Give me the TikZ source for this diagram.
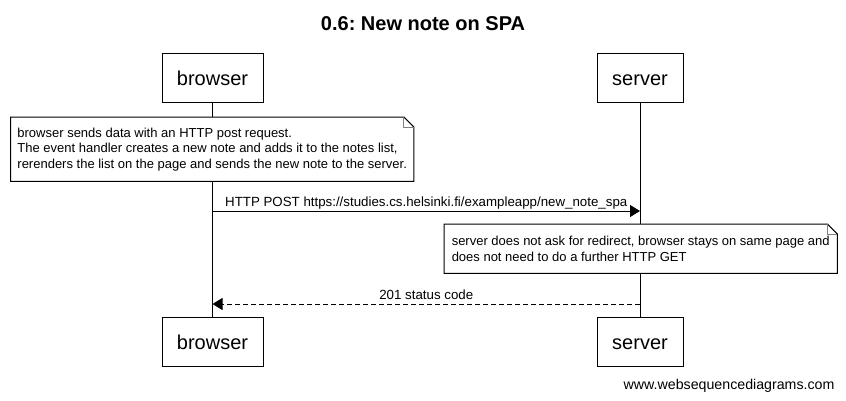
\documentclass[tikz,border=0pt]{standalone}
\usepackage{fontspec}
\setmainfont{Liberation Sans}
\usetikzlibrary{arrows.meta}
\frenchspacing

\tikzset{
  actor/.style={draw, line width=1pt, fill=white, minimum height=49pt, inner sep=0pt,
    text height=16pt, text depth=0pt, font=\fontsize{20}{24}\selectfont},
  notebox/.style={fill=white, align=left, anchor=north west, inner sep=0pt,
    font=\fontsize{13}{15.5}\selectfont},
  msg/.style={line width=1pt, -{Triangle[length=10pt,width=12pt]}},
  msglabel/.style={font=\fontsize{13.3}{15.5}\selectfont, anchor=base},
  fold/.style={line width=1pt}
}

\begin{document}
\begin{tikzpicture}[x=1pt,y=-1pt]
  \useasboundingbox (0,0) rectangle (846,400);
  \node[font=\bfseries\fontsize{20}{24}\selectfont, anchor=base] (title) at (423,30) {0.6: New note on SPA};

  % participants
  \node[actor, minimum width=101pt] (browsertop) at (212.5,77.5) {browser};
  \node[actor, minimum width=86pt] (servertop) at (640,77.5) {server};
  \node[actor, minimum width=101pt] (browserbot) at (212.5,341.5) {browser};
  \node[actor, minimum width=86pt] (serverbot) at (640,341.5) {server};
  \draw[line width=1pt] (browsertop) -- (browserbot);
  \draw[line width=1pt] (servertop) -- (serverbot);

  % first note
  \node[notebox, minimum width=403pt, minimum height=64pt] (note1) at (10.5,117) {browser sends data with an HTTP post request.\\
    The event handler creates a new note and adds it to the notes list,\\
    rerenders the list on the page and sends the new note to the server.};
  \draw[fold] (note1.south west) -- (note1.north west) -- ([xshift=-10pt]note1.north east)
    -- ([yshift=-10pt]note1.north east) -- (note1.south east) -- cycle;
  \draw[fold, gray] ([xshift=-10pt]note1.north east) -- ([xshift=-10pt,yshift=-10pt]note1.north east)
    -- ([yshift=-10pt]note1.north east);

  % post
  \coordinate (post1) at (browsertop |- 0,211);
  \coordinate (post2) at (servertop |- 0,211);
  \draw[msg] (post1) -- (post2) node[msglabel, pos=0.5, yshift=5pt] {HTTP POST https://studies.cs.helsinki.fi/exampleapp/new\_note\_spa};

  % second note
  \node[notebox, minimum width=393pt, minimum height=49pt] (note2) at (444,224) {server does not ask for redirect, browser stays on same page and\\
    does not need to do a further HTTP GET};
  \draw[fold] (note2.south west) -- (note2.north west) -- ([xshift=-10pt]note2.north east)
    -- ([yshift=-10pt]note2.north east) -- (note2.south east) -- cycle;
  \draw[fold, gray] ([xshift=-10pt]note2.north east) -- ([xshift=-10pt,yshift=-10pt]note2.north east)
    -- ([yshift=-10pt]note2.north east);

  % response
  \coordinate (resp1) at (servertop |- 0,304);
  \coordinate (resp2) at (browsertop |- 0,304);
  \draw[msg, dash pattern=on 5pt off 3pt] (resp1) -- (resp2) node[msglabel, pos=0.5, yshift=5pt] {201 status code};

  \node[font=\fontsize{14.2}{16}\selectfont, anchor=base east] (wsd) at (838,389) {www.websequencediagrams.com};
\end{tikzpicture}
\end{document}
